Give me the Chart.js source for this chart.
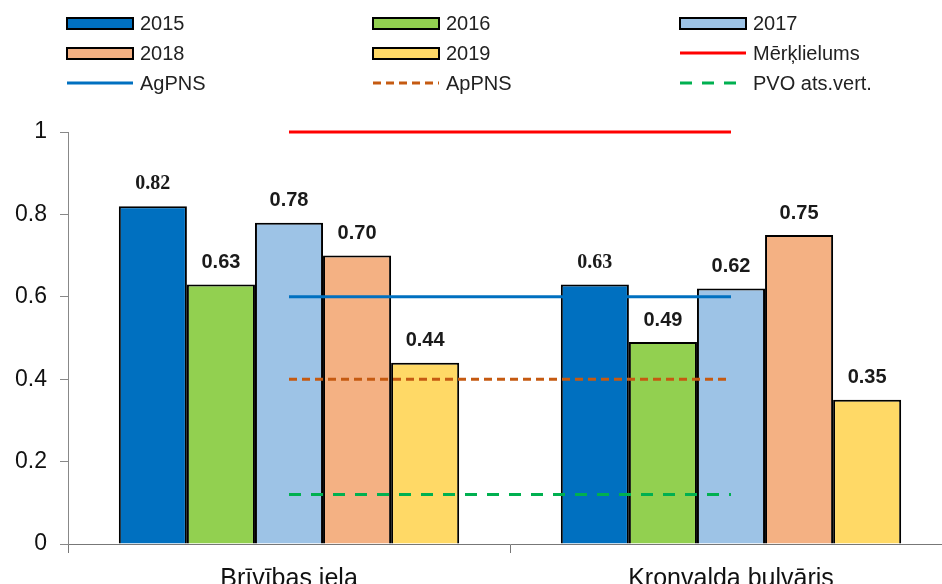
<!DOCTYPE html>
<html>
<head>
<meta charset="utf-8">
<script src="https://cdn.jsdelivr.net/npm/chart.js@4/dist/chart.umd.min.js"></script>
<style>
  html, body { margin: 0; padding: 0; background: #fff; overflow: hidden; }
  #wrap { width: 952px; height: 600px; position: relative; }
</style>
</head>
<body>
<div id="wrap"><canvas id="chart"></canvas></div>
<script>
const categories = ["Brīvības iela", "Kronvalda bulvāris"];
const years = ["2015", "2016", "2017", "2018", "2019"];
const values2015 = [0.82, 0.63];
const values2016 = [0.63, 0.49];
const values2017 = [0.78, 0.62];
const values2018 = [0.70, 0.75];
const values2019 = [0.44, 0.35];
const merkLevel = [1, 1];
const agpnsLevel = [0.6, 0.6];
const appnsLevel = [0.4, 0.4];
const pvoLevel = [0.12, 0.12];
const yTicks = [0, 0.2, 0.4, 0.6, 0.8, 1];

const barColors = ["#0070C0", "#92D050", "#9DC3E6", "#F4B183", "#FFD966"];
const barValues = [values2015, values2016, values2017, values2018, values2019];

const datasets = years.map((y, i) => ({
    type: "bar",
    label: y,
    data: barValues[i],
    backgroundColor: barColors[i],
    borderColor: "#000",
    borderWidth: 2,
    order: 1,
    categoryPercentage: 0.77,
    barPercentage: 1
}));

function lineSet(label, data, color, dash, width) {
    return {
        type: "line", label, data,
        borderColor: color, backgroundColor: color,
        borderWidth: width, borderDash: dash,
        pointRadius: 0, fill: false, order: 0,
        clip: false
    };
}
datasets.push(lineSet("Mērķlielums", merkLevel, "#FF0000", [], 3));
datasets.push(lineSet("AgPNS", agpnsLevel, "#0070C0", [], 3));
datasets.push(lineSet("ApPNS", appnsLevel, "#C55A11", [8, 5], 3));
datasets.push(lineSet("PVO ats.vert.", pvoLevel, "#00B050", [12, 10], 3));

const sans = "'Liberation Sans', Arial, sans-serif";

// legend drawn in 3 fixed columns
const legendPlugin = {
    id: "gridLegend",
    afterDraw(chart) {
        const ctx = chart.ctx;
        const colX = [67, 373, 680];
        const rowY = [23, 53, 83];
        ctx.save();
        chart.data.datasets.forEach((ds, i) => {
            const x = colX[i % 3];
            const y = rowY[Math.floor(i / 3)];
            if (ds.type === "bar") {
                ctx.fillStyle = ds.backgroundColor;
                ctx.fillRect(x, y - 5, 66, 11);
                ctx.lineWidth = 2;
                ctx.strokeStyle = "#000";
                ctx.strokeRect(x, y - 5, 66, 11);
            } else {
                ctx.beginPath();
                ctx.setLineDash(ds.borderDash);
                ctx.lineWidth = 3;
                ctx.strokeStyle = ds.borderColor;
                ctx.moveTo(x, y);
                ctx.lineTo(x + 66, y);
                ctx.stroke();
                ctx.setLineDash([]);
            }
            ctx.fillStyle = "#222";
            ctx.font = "20px " + sans;
            ctx.textBaseline = "middle";
            ctx.textAlign = "left";
            ctx.fillText(ds.label, x + 73, y + 1);
        });
        ctx.restore();
    }
};

const valueLabels = {
    id: "valueLabels",
    afterDatasetsDraw(chart) {
        const ctx = chart.ctx;
        ctx.save();
        ctx.fillStyle = "#1a1a1a";
        ctx.textAlign = "center";
        ctx.textBaseline = "bottom";
        chart.data.datasets.forEach((ds, i) => {
            if (ds.type !== "bar") return;
            ctx.font = i === 0
                ? "bold 20px 'Liberation Serif', 'Times New Roman', serif"
                : "bold 20px " + sans;
            chart.getDatasetMeta(i).data.forEach((bar, j) => {
                ctx.fillText(ds.data[j].toFixed(2), bar.x, bar.y - 12);
            });
        });
        ctx.restore();
    }
};

new Chart(document.getElementById("chart"), {
    data: { labels: categories, datasets },
    options: {
        responsive: true,
        maintainAspectRatio: false,
        animation: false,
        layout: { padding: { top: 132, left: 0, right: 0, bottom: 0 } },
        plugins: { legend: { display: false }, tooltip: { enabled: false } },
        scales: {
            x: {
                grid: { display: true, drawOnChartArea: false, offset: true, tickLength: 9, color: "#777" },
                border: { color: "#777", width: 1 },
                ticks: { color: "#111", font: { size: 25, family: sans }, padding: 11 },
                afterFit(scale) { scale.height = 56; }
            },
            y: {
                min: 0, max: 1,
                afterBuildTicks(scale) { scale.ticks = yTicks.map(v => ({ value: v })); },
                grid: { display: true, drawOnChartArea: false, tickLength: 8, color: "#888" },
                border: { color: "#888", width: 1 },
                ticks: {
                    color: "#111", padding: 13,
                    font: { size: 23, family: sans },
                    callback: v => String(v)
                },
                afterFit(scale) { scale.width = 68; }
            }
        }
    },
    plugins: [legendPlugin, valueLabels]
});
</script>
</body>
</html>
